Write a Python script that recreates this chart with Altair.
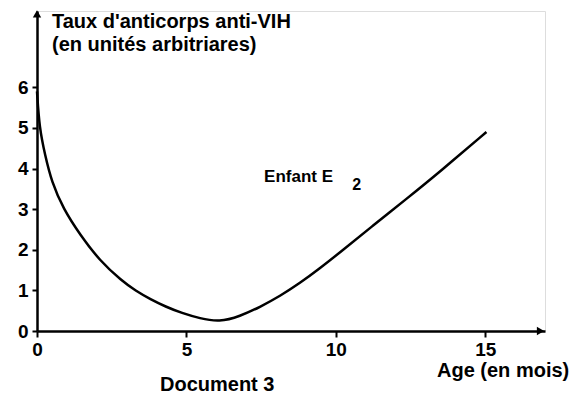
import altair as alt
import pandas as pd

# Curve: Enfant E2, antibody level vs age (months)
months = [0, 0.08, 0.27, 0.49, 0.88, 1.44, 2.1, 2.83, 3.3, 3.8, 4.3, 4.85, 5.45, 6.1,
          6.79, 7.46, 8.13, 8.8, 9.46, 10.13, 11.25, 12.36, 13.48, 15.04]
values = [5.9, 5.0, 4.33, 3.67, 3.01, 2.37, 1.73, 1.24, 0.99, 0.78, 0.6, 0.44, 0.31, 0.22,
          0.36, 0.59, 0.86, 1.18, 1.54, 1.93, 2.6, 3.25, 3.92, 4.9]

x_ticks = [0, 5, 10, 15]
y_ticks = [0, 1, 2, 3, 4, 5, 6]
x_max = 17
y_max = 7.88

y_title = ["Taux d'anticorps anti-VIH", "(en unités arbitriares)"]
x_title = "Age (en mois)"
doc_title = "Document 3"
curve_label = "Enfant E"
curve_sub = "2"
label_pos = (7.6, 3.67)
sub_pos = (10.55, 3.47)

FONT = "Liberation Sans"
W, H = 508, 320

df = pd.DataFrame({"m": months, "v": values})

xs = alt.Scale(domain=[0, x_max], nice=False, zero=True)
ys = alt.Scale(domain=[0, y_max], nice=False, zero=True)

x_axis = alt.Axis(values=x_ticks, title=None, grid=False, domainColor="black", domainWidth=2.5,
                  tickColor="black", tickWidth=2, tickSize=6, labelFont=FONT, labelFontSize=19,
                  labelFontWeight="bold", labelColor="black", labelPadding=3, labelFlush=False)
y_axis = alt.Axis(values=y_ticks, title=None, grid=False, domainColor="black", domainWidth=2.5,
                  tickColor="black", tickWidth=2, tickSize=5, labelFont=FONT, labelFontSize=19,
                  labelFontWeight="bold", labelColor="black", labelPadding=4, labelFlush=False)

curve = alt.Chart(df).mark_line(color="black", strokeWidth=2.5, interpolate="basis", clip=False).encode(
    x=alt.X("m:Q", scale=xs, axis=x_axis),
    y=alt.Y("v:Q", scale=ys, axis=y_axis),
)

arrows_df = pd.DataFrame({"m": [x_max - 0.15, 0], "v": [0, y_max - 0.07],
                          "shape": ["triangle-right", "triangle-up"]})
arrows = alt.Chart(arrows_df).mark_point(filled=True, color="black", size=70, opacity=1, clip=False).encode(
    x=alt.X("m:Q", scale=xs),
    y=alt.Y("v:Q", scale=ys),
    shape=alt.Shape("shape:N", scale=None),
)

lab_df = pd.DataFrame({"m": [label_pos[0]], "v": [label_pos[1]], "t": [curve_label]})
lab = alt.Chart(lab_df).mark_text(font=FONT, fontSize=17, fontWeight="bold", align="left",
                                  baseline="alphabetic", color="black").encode(
    x=alt.X("m:Q", scale=xs), y=alt.Y("v:Q", scale=ys), text="t:N")
sub_df = pd.DataFrame({"m": [sub_pos[0]], "v": [sub_pos[1]], "t": [curve_sub]})
sub = alt.Chart(sub_df).mark_text(font=FONT, fontSize=16, fontWeight="bold", align="left",
                                  baseline="alphabetic", color="black").encode(
    x=alt.X("m:Q", scale=xs), y=alt.Y("v:Q", scale=ys), text="t:N")

def note(text, x, y):
    return alt.Chart(pd.DataFrame({"t": [text]})).mark_text(
        font=FONT, fontSize=20, fontWeight="bold", align="left", baseline="alphabetic", color="black"
    ).encode(x=alt.value(x), y=alt.value(y), text="t:N")

ytitle1 = note(y_title[0], 15, 17)
ytitle2 = note(y_title[1], 15, 40)
xtitle = note(x_title, 400, 366)
doc = note(doc_title, 123, 380)

chart = alt.layer(curve, arrows, lab, sub, ytitle1, ytitle2, xtitle, doc).properties(
    width=W, height=H,
    autosize=alt.AutoSizeParams(type="none"),
    padding={"left": 29, "top": 3, "right": 27, "bottom": 65},
).configure_view(stroke=None).configure(background="white")

chart.save("out.html", embed_options={"renderer": "svg", "actions": False})
